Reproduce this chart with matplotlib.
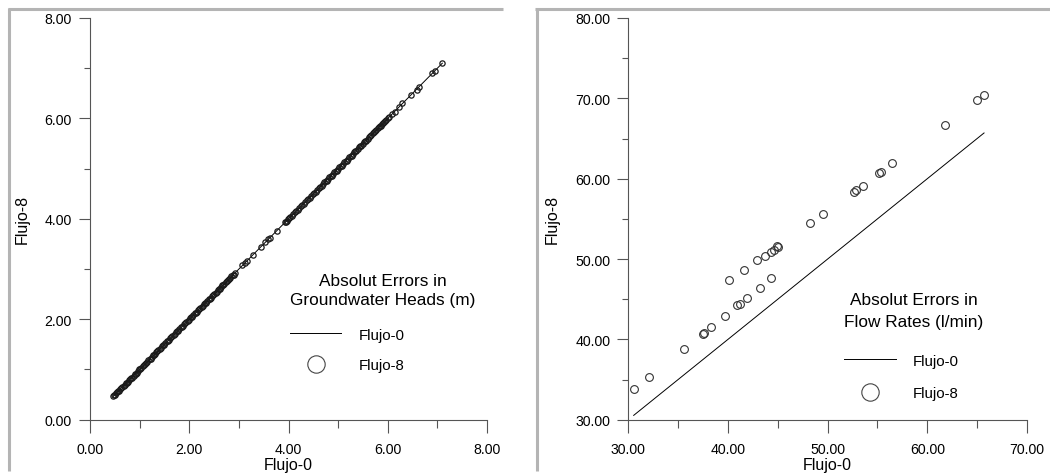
import matplotlib
matplotlib.use("Agg")
import matplotlib.pyplot as plt
from matplotlib.lines import Line2D
from matplotlib.ticker import MultipleLocator, FormatStrFormatter

plt.rcParams['font.family'] = ['Liberation Sans', 'DejaVu Sans']

# Groundwater heads (m): Flujo-0 vs Flujo-8
heads_f0 = [
    0.47, 0.49, 0.51, 0.53, 0.55, 0.57, 0.59, 0.61, 0.63, 0.65, 0.68, 0.70,
    0.72, 0.74, 0.76, 0.79, 0.81, 0.83, 0.85, 0.88, 0.90, 0.92, 0.94, 0.97,
    0.99, 1.01, 1.03, 1.06, 1.08, 1.10, 1.13, 1.15, 1.17, 1.20, 1.22, 1.24,
    1.27, 1.29, 1.31, 1.34, 1.36, 1.38, 1.41, 1.43, 1.45, 1.48, 1.50, 1.52,
    1.55, 1.57, 1.59, 1.62, 1.64, 1.66, 1.69, 1.71, 1.73, 1.76, 1.78, 1.80,
    1.83, 1.85, 1.87, 1.90, 1.92, 1.94, 1.97, 1.99, 2.01, 2.04, 2.06, 2.08,
    2.11, 2.13, 2.15, 2.18, 2.20, 2.22, 2.25, 2.27, 2.29, 2.32, 2.34, 2.36,
    2.39, 2.41, 2.43, 2.46, 2.48, 2.50, 2.53, 2.55, 2.57, 2.60, 2.62, 2.64,
    2.67, 2.69, 2.71, 2.74, 2.76, 2.78, 2.81, 2.83, 2.85, 2.88, 2.90, 2.93,
    3.07, 3.13, 3.16, 3.28, 3.45, 3.53, 3.58, 3.62, 3.76, 3.92, 3.94, 3.96,
    3.99, 4.01, 4.04, 4.07, 4.10, 4.13, 4.16, 4.19, 4.22, 4.25, 4.28, 4.31,
    4.34, 4.37, 4.40, 4.43, 4.46, 4.49, 4.52, 4.55, 4.58, 4.61, 4.64, 4.67,
    4.70, 4.72, 4.75, 4.77, 4.80, 4.82, 4.85, 4.87, 4.90, 4.92, 4.95, 4.97,
    5.00, 5.02, 5.05, 5.07, 5.10, 5.12, 5.15, 5.17, 5.20, 5.22, 5.25, 5.27,
    5.30, 5.32, 5.35, 5.37, 5.40, 5.42, 5.45, 5.47, 5.50, 5.52, 5.55, 5.57,
    5.60, 5.62, 5.65, 5.67, 5.70, 5.72, 5.75, 5.77, 5.80, 5.82, 5.84, 5.86,
    5.88, 5.90, 5.93, 5.95, 5.97, 6.00, 6.03, 6.08, 6.14, 6.22, 6.29, 6.47,
    6.58, 6.63, 6.90, 6.95, 7.10]
heads_f8 = [
    0.48, 0.49, 0.50, 0.53, 0.56, 0.57, 0.58, 0.61, 0.64, 0.65, 0.67, 0.70,
    0.73, 0.74, 0.75, 0.79, 0.82, 0.83, 0.84, 0.88, 0.91, 0.92, 0.93, 0.97,
    1.00, 1.01, 1.02, 1.06, 1.09, 1.10, 1.12, 1.15, 1.18, 1.20, 1.21, 1.24,
    1.28, 1.29, 1.30, 1.34, 1.37, 1.38, 1.40, 1.43, 1.46, 1.48, 1.49, 1.52,
    1.56, 1.57, 1.58, 1.62, 1.65, 1.66, 1.68, 1.71, 1.74, 1.76, 1.77, 1.80,
    1.84, 1.85, 1.86, 1.90, 1.93, 1.94, 1.96, 1.99, 2.02, 2.04, 2.05, 2.08,
    2.12, 2.13, 2.14, 2.18, 2.21, 2.22, 2.24, 2.27, 2.30, 2.32, 2.33, 2.36,
    2.40, 2.41, 2.42, 2.46, 2.49, 2.50, 2.52, 2.55, 2.58, 2.60, 2.61, 2.64,
    2.68, 2.69, 2.70, 2.74, 2.77, 2.78, 2.80, 2.83, 2.86, 2.88, 2.89, 2.93,
    3.08, 3.13, 3.17, 3.28, 3.44, 3.53, 3.59, 3.62, 3.76, 3.93, 3.94, 3.95,
    3.99, 4.02, 4.04, 4.06, 4.10, 4.14, 4.16, 4.18, 4.22, 4.26, 4.28, 4.30,
    4.34, 4.38, 4.40, 4.42, 4.46, 4.50, 4.52, 4.54, 4.58, 4.62, 4.64, 4.66,
    4.70, 4.73, 4.75, 4.76, 4.80, 4.83, 4.85, 4.86, 4.90, 4.93, 4.95, 4.96,
    5.00, 5.03, 5.05, 5.06, 5.10, 5.13, 5.15, 5.16, 5.20, 5.23, 5.25, 5.26,
    5.30, 5.33, 5.35, 5.36, 5.40, 5.43, 5.45, 5.46, 5.50, 5.53, 5.55, 5.56,
    5.60, 5.63, 5.65, 5.66, 5.70, 5.73, 5.75, 5.76, 5.80, 5.83, 5.84, 5.85,
    5.88, 5.91, 5.93, 5.94, 5.97, 6.01, 6.03, 6.08, 6.13, 6.22, 6.30, 6.47,
    6.57, 6.63, 6.91, 6.95, 7.10]

# Flow rates (l/min): Flujo-0 vs Flujo-8
flow_f0 = [30.54, 32.04, 35.59, 37.50, 37.58, 38.26, 39.67, 40.07, 40.94, 41.24,
           41.64, 41.91, 42.94, 43.18, 43.68, 44.28, 44.28, 44.65, 44.92, 44.98,
           48.19, 49.53, 52.64, 52.88, 53.51, 55.15, 55.32, 56.45, 61.77, 64.95,
           65.69]
flow_f8 = [33.82, 35.27, 38.84, 40.72, 40.80, 41.49, 42.95, 47.39, 44.23, 44.44,
           48.67, 45.15, 49.83, 46.43, 50.37, 50.91, 47.59, 51.16, 51.62, 51.54,
           54.44, 55.60, 58.38, 58.55, 59.13, 60.71, 60.79, 61.91, 66.72, 69.83,
           70.46]

head_ticks = [0, 2, 4, 6, 8]
flow_xticks = [30, 40, 50, 60, 70]
flow_yticks = [30, 40, 50, 60, 70, 80]

W, H = 1050, 477
fig = plt.figure(figsize=(W / 100, H / 100), dpi=100)

AX_COLOR = '#555555'


def frame_axes(px_left, px_right, px_bottom, px_top):
    return fig.add_axes([px_left / W, 1 - px_bottom / H,
                         (px_right - px_left) / W, (px_bottom - px_top) / H])


def style_axes(ax):
    for side in ('top', 'right'):
        ax.spines[side].set_visible(False)
    for side in ('left', 'bottom'):
        ax.spines[side].set_color(AX_COLOR)
        ax.spines[side].set_linewidth(0.8)
    ax.tick_params(axis='x', which='major', direction='out', length=9.5,
                   width=0.8, color=AX_COLOR, pad=6.5, labelsize=10.2)
    ax.tick_params(axis='x', which='minor', direction='out', length=5.8,
                   width=0.8, color=AX_COLOR)
    ax.tick_params(axis='y', which='major', direction='out', length=8,
                   width=0.8, color=AX_COLOR, pad=5, labelsize=10.2)
    ax.tick_params(axis='y', which='minor', direction='out', length=4.3,
                   width=0.8, color=AX_COLOR)
    ax.xaxis.set_major_formatter(FormatStrFormatter('%.2f'))
    ax.yaxis.set_major_formatter(FormatStrFormatter('%.2f'))
    ax.set_xlabel('Flujo-0', fontsize=11.5, labelpad=1)
    ax.set_ylabel('Flujo-8', fontsize=11.5, labelpad=11)


def add_legend(ax, title, anchor, title_spacing, row_spacing, gap):
    handles = [Line2D([], [], color='black', lw=0.7),
               Line2D([], [], ls='none', marker='o', markersize=12.5,
                      mfc='none', mec='#444444', mew=0.8)]
    leg = ax.legend(handles, ['Flujo-0', 'Flujo-8'], title=title,
                    loc='upper left', bbox_to_anchor=anchor, frameon=False,
                    fontsize=10.8, title_fontsize=12.4, borderpad=0,
                    borderaxespad=0, alignment='left',
                    handlelength=3.45, handletextpad=1.15,
                    labelspacing=row_spacing)
    leg.get_title().set_multialignment('center')
    leg.get_title().set_linespacing(title_spacing)
    leg._legend_box.sep = gap
    return leg


# Left panel: groundwater heads
ax1 = frame_axes(90, 487, 420.7, 19)
style_axes(ax1)
ax1.set_xlim(0, 8)
ax1.set_ylim(0, 8)
ax1.set_xticks(head_ticks)
ax1.set_yticks(head_ticks)
ax1.xaxis.set_minor_locator(MultipleLocator(1))
ax1.yaxis.set_minor_locator(MultipleLocator(1))
line_x = sorted(heads_f0)
ax1.plot(line_x, line_x, color='black', lw=0.7)
ax1.plot(heads_f0, heads_f8, ls='none', marker='o', markersize=3.8,
         mfc='none', mec='#1a1a1a', mew=0.9)
add_legend(ax1, 'Absolut Errors in\nGroundwater Heads (m)', (0.503, 0.366),
           1.35, 1.1, 15)

# Right panel: flow rates
ax2 = frame_axes(628.3, 1027, 420.7, 19)
style_axes(ax2)
ax2.set_xlim(30, 70)
ax2.set_ylim(30, 80)
ax2.set_xticks(flow_xticks)
ax2.set_yticks(flow_yticks)
ax2.xaxis.set_minor_locator(MultipleLocator(5))
ax2.yaxis.set_minor_locator(MultipleLocator(5))
flow_line = sorted(flow_f0)
ax2.plot(flow_line, flow_line, color='black', lw=0.7)
ax2.plot(flow_f0, flow_f8, ls='none', marker='o', markersize=5.6,
         mfc='none', mec='#333333', mew=0.8)
add_legend(ax2, 'Absolut Errors in\nFlow Rates (l/min)', (0.541, 0.318),
           1.55, 1.22, 18)

# Gray panel frames
FRAME = dict(color='#b4b4b4', lw=2.2, solid_capstyle='butt')
for xs, ys in [((8.5, 8.5), (9, 472)), ((8, 503), (10, 10)),
               ((536.5, 536.5), (9, 472)), ((535, 1050), (10, 10))]:
    fig.add_artist(Line2D([x / W for x in xs], [1 - y / H for y in ys],
                          transform=fig.transFigure, **FRAME))

fig.savefig('out.png', dpi=100)
